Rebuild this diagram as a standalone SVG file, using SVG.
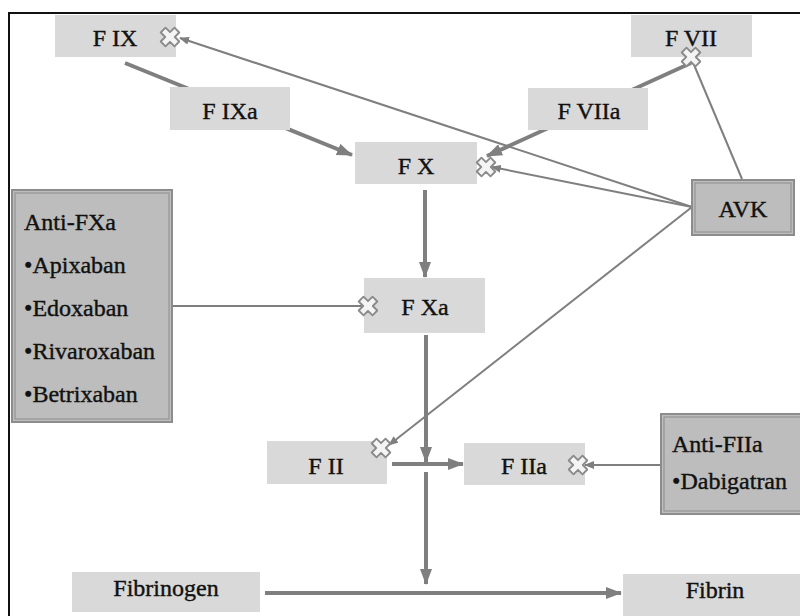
<svg xmlns="http://www.w3.org/2000/svg" width="800" height="616" viewBox="0 0 800 616">
<style>
.bx{fill:#d9d9d9}
.dk{fill:#bdbdbd;stroke:#8c8c8c;stroke-width:2}
.dki{fill:none;stroke:#8c8c8c;stroke-width:1}
.t{font-family:"Liberation Serif","Times New Roman",serif;font-size:24px;fill:#111;stroke:#111;stroke-width:0.4}
.c{text-anchor:middle}
.thick{stroke:#7f7f7f;stroke-width:4;fill:none}
.thin{stroke:#7f7f7f;stroke-width:2;fill:none}
.xm{fill:#f4f4f4;stroke:#8a8a8a;stroke-width:1.4;stroke-linejoin:round}
</style>
<defs>
<marker id="ah" markerUnits="userSpaceOnUse" markerWidth="16" markerHeight="12" refX="15" refY="6" orient="auto"><path d="M0,0 L16,6 L0,12 z" fill="#7f7f7f"/></marker>
<marker id="as" markerUnits="userSpaceOnUse" markerWidth="10" markerHeight="8" refX="9" refY="4" orient="auto"><path d="M0,0 L10,4 L0,8 z" fill="#7f7f7f"/></marker>
<path id="xmark" class="xm" transform="rotate(45) scale(1.3)" d="M-2.6,-7.5 h5.2 v4.9 h4.9 v5.2 h-4.9 v4.9 h-5.2 v-4.9 h-4.9 v-5.2 h4.9 z"/>
</defs>
<rect width="800" height="616" fill="#fff"/>
<rect x="9" y="13" width="800" height="620" fill="none" stroke="#111" stroke-width="2"/>

<g id="connectors">
<line class="thick" x1="125" y1="63" x2="352" y2="155" marker-end="url(#ah)"/>
<line class="thick" x1="691" y1="63" x2="487" y2="156" marker-end="url(#ah)"/>
<line class="thick" x1="425" y1="190" x2="425" y2="277" marker-end="url(#ah)"/>
<line class="thick" x1="426" y1="335" x2="426" y2="462" marker-end="url(#ah)"/>
<line class="thick" x1="392" y1="464" x2="463" y2="464" marker-end="url(#ah)"/>
<line class="thick" x1="426" y1="472" x2="426" y2="584" marker-end="url(#ah)"/>
<line class="thick" x1="265" y1="593" x2="621" y2="593" marker-end="url(#ah)"/>
<line class="thin" x1="692" y1="207" x2="180" y2="38" marker-end="url(#as)"/>
<line class="thin" x1="692" y1="207" x2="492" y2="167" marker-end="url(#as)"/>
<line class="thin" x1="692" y1="207" x2="389" y2="445" marker-end="url(#as)"/>
<line class="thin" x1="742" y1="179" x2="692" y2="60"/>
<line class="thin" x1="172" y1="306" x2="376" y2="306" marker-end="url(#as)"/>
<line class="thin" x1="661" y1="465" x2="585" y2="465" marker-end="url(#as)"/>
</g>

<g id="fix"><rect class="bx" x="55" y="15" width="121" height="42"/><text class="t c" x="115" y="46">F IX</text></g>
<g id="fixa"><rect class="bx" x="170" y="87" width="120" height="43"/><text class="t c" x="230" y="119">F IXa</text></g>
<g id="fx"><rect class="bx" x="355" y="142" width="122" height="42"/><text class="t c" x="416" y="174">F X</text></g>
<g id="fvii"><rect class="bx" x="631" y="15" width="121" height="42"/><text class="t c" x="691" y="46">F VII</text></g>
<g id="fviia"><rect class="bx" x="528" y="88" width="120" height="42"/><text class="t c" x="589" y="119">F VIIa</text></g>
<g id="avk"><rect class="dk" x="692" y="180" width="102" height="55"/><rect class="dki" x="695" y="183" width="96" height="49"/><text class="t c" x="743" y="217">AVK</text></g>
<g id="antifxa"><rect class="dk" x="12" y="190" width="160" height="232"/><rect class="dki" x="15" y="193" width="154" height="226"/>
<text class="t" x="24" y="230">Anti-FXa</text>
<text class="t" x="24" y="273">•Apixaban</text>
<text class="t" x="24" y="316">•Edoxaban</text>
<text class="t" x="24" y="359">•Rivaroxaban</text>
<text class="t" x="24" y="402">•Betrixaban</text></g>
<g id="fxa"><rect class="bx" x="364" y="278" width="121" height="55"/><text class="t c" x="425" y="315">F Xa</text></g>
<g id="fii"><rect class="bx" x="267" y="441" width="120" height="43"/><text class="t c" x="326" y="474">F II</text></g>
<g id="fiia"><rect class="bx" x="464" y="443" width="121" height="42"/><text class="t c" x="524" y="474">F IIa</text></g>
<g id="antifiia"><rect class="dk" x="661" y="414" width="150" height="100"/><rect class="dki" x="664" y="417" width="150" height="94"/>
<text class="t" x="672" y="452">Anti-FIIa</text>
<text class="t" x="672" y="489">•Dabigatran</text></g>
<g id="fibrinogen"><rect class="bx" x="72" y="572" width="188" height="40"/><text class="t c" x="166" y="596">Fibrinogen</text></g>
<g id="fibrin"><rect class="bx" x="623" y="574" width="190" height="42"/><text class="t c" x="715" y="598">Fibrin</text></g>

<g id="inhibition-marks">
<use href="#xmark" x="170" y="37"/>
<use href="#xmark" x="691" y="57"/>
<use href="#xmark" x="486" y="167"/>
<use href="#xmark" x="368" y="306"/>
<use href="#xmark" x="381" y="448"/>
<use href="#xmark" x="578" y="465"/>
</g>
</svg>
